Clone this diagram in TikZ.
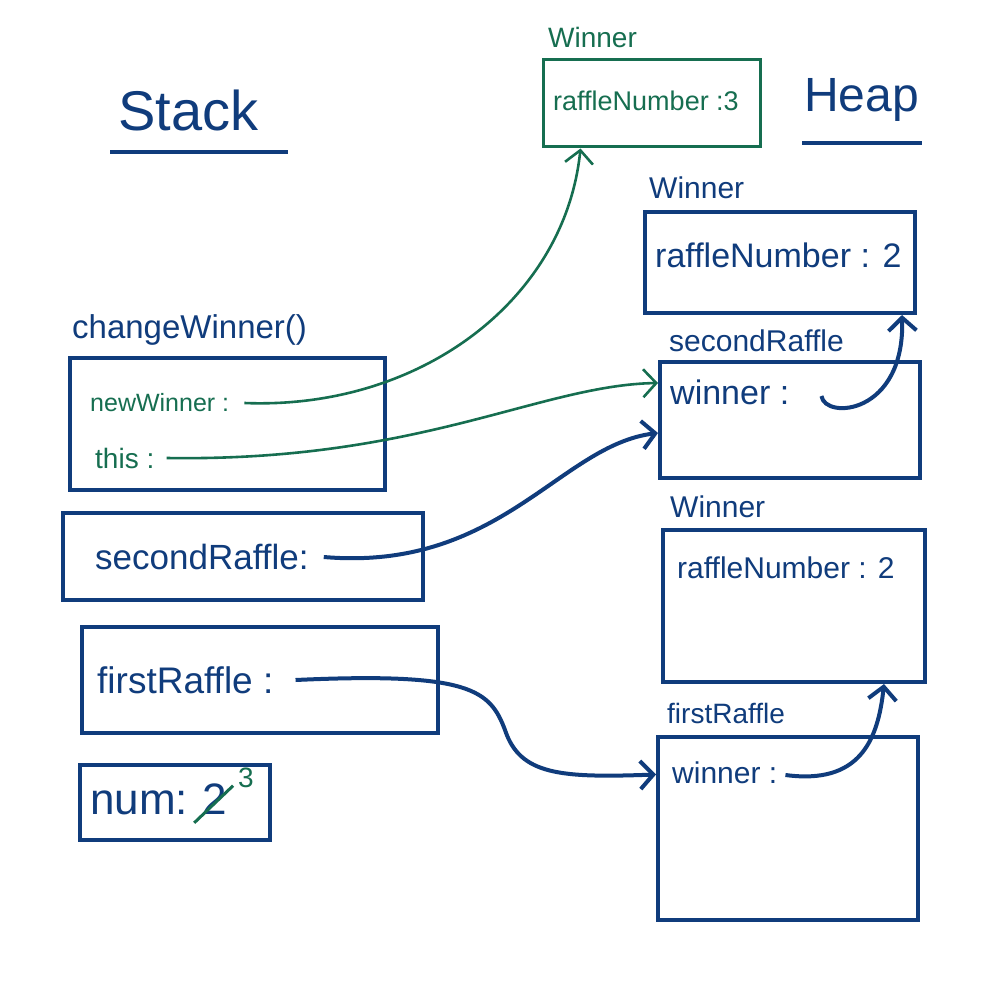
\documentclass[tikz,border=0pt]{standalone}
\usepackage{fontspec}
\setmainfont{Liberation Sans}
\usetikzlibrary{arrows.meta}
\definecolor{navy}{RGB}{16,60,124}
\definecolor{pen}{RGB}{22,110,80}
\tikzset{
  box/.style={draw=navy, line width=4pt, inner sep=0pt},
  gbox/.style={draw=pen, line width=3pt, inner sep=0pt},
  lbl/.style={text=navy, anchor=west, inner sep=0pt},
  glbl/.style={text=pen, anchor=west, inner sep=0pt},
  barb/.style={-{Straight Barb[length=13pt,width=28pt]}},
  blink/.style={barb, draw=navy, line width=4pt},
  glink/.style={barb, draw=pen, line width=2.6pt},
  fs/.style={font=\fontsize{#1}{#1}\selectfont}
}
\begin{document}
\begin{tikzpicture}[x=1pt,y=-1pt]
\useasboundingbox (0,0) rectangle (1006,1000);
\fill[white] (0,0) rectangle (1006,1000);

% titles
\node[lbl, fs=56] (stack) at (118,110) {Stack};
\draw[navy, line width=4pt] (110,152) -- (288,152);
\node[lbl, fs=48] (heap) at (804,100) {Heap};
\draw[navy, line width=4pt] (802,143) -- (922,143);

% heap objects
\node[glbl, fs=28] (gwlbl) at (548,37) {Winner};
\node[gbox, minimum width=217pt, minimum height=87pt] (gwin) at (651.5,103.5) {};
\node[glbl, fs=27] (gwtxt) at (553,101) {raffleNumber :3};

\node[lbl, fs=30] (w1lbl) at (649,188) {Winner};
\node[box, minimum width=270pt, minimum height=101pt] (w1) at (780,262.5) {};
\node[lbl, fs=34] (w1txt) at (655,255) {raffleNumber : 2};

\node[lbl, fs=30] (srlbl) at (669,341) {secondRaffle};
\node[box, minimum width=260pt, minimum height=116pt] (sro) at (790,420) {};
\node[lbl, fs=34] (srw) at (670,392) {winner :};

\node[lbl, fs=30] (w2lbl) at (670,507) {Winner};
\node[box, minimum width=262pt, minimum height=152pt] (w2) at (794,606) {};
\node[lbl, fs=30] (w2txt) at (677,568) {raffleNumber : 2};

\node[lbl, fs=28] (frlbl) at (667,713) {firstRaffle};
\node[box, minimum width=260pt, minimum height=183pt] (fro) at (788,828.5) {};
\node[lbl, fs=30] (frw) at (672,773) {winner :};

% stack frames
\node[lbl, fs=33] (cwlbl) at (72,330) {changeWinner()};
\node[box, minimum width=315pt, minimum height=132pt] (cw) at (227.5,424) {};
\node[glbl, fs=25] (nw) at (90,403) {newWinner :};
\node[glbl, fs=28] (this) at (95,458) {this :};

\node[box, minimum width=360pt, minimum height=87pt] (srs) at (243,556.5) {};
\node[lbl, fs=35] (srst) at (95,557) {secondRaffle:};

\node[box, minimum width=356pt, minimum height=106pt] (frs) at (260,680) {};
\node[lbl, fs=37] (frst) at (97,680) {firstRaffle :};

\node[box, minimum width=190pt, minimum height=75pt] (nums) at (175,802) {};
\node[lbl, fs=44] (numt) at (90,803) {num:};
\node[lbl, fs=44, anchor=base west] (two) at ([xshift=14pt]numt.base east) {2};
\node[glbl, fs=28] (three) at (238,778) {3};
\draw[pen, line width=3pt] ([shift={(-8pt,-8pt)}]two.south west) -- ([shift={(6pt,-2pt)}]two.north east);

% connectors
\draw[glink] ([xshift=15pt]nw.east) .. controls (420,410) and (565,300) .. ([xshift=-71pt]gwin.south);
\draw[glink] ([xshift=12pt]this.east) .. controls (420,462) and (540,385) .. ([yshift=37pt]sro.west);
\draw[blink] ([xshift=15pt]srst.east) .. controls (500,572) and (560,445) .. ([yshift=-13pt]sro.west);
\draw[blink] ([xshift=22pt]frst.east) .. controls (470,672) and (490,690) .. (505,730)
   .. controls (520,775) and (560,778) .. ([yshift=54pt]fro.west);
\draw[blink] ([xshift=32pt,yshift=-4pt]srw.east) .. controls (825,420) and (905,415) .. ([xshift=-15pt]w1.south east);
\draw[blink] ([xshift=8pt,yshift=-2pt]frw.east) .. controls (860,785) and (878,740) .. ([xshift=90pt]w2.south);
\end{tikzpicture}
\end{document}
